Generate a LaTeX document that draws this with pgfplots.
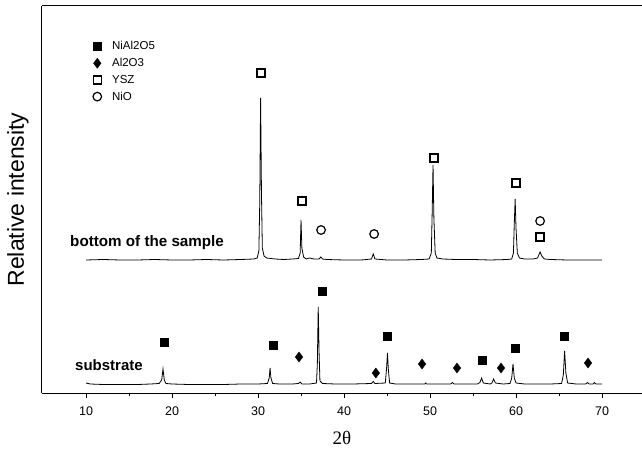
\documentclass[border=0pt]{standalone}
\usepackage{fontspec}
\setmainfont{Liberation Sans}
\newfontfamily\seriffont{Liberation Serif}
\usepackage{pgfplots}
\pgfplotsset{compat=1.18}
\begin{document}
\begin{tikzpicture}
\begin{axis}[
  name=ax,
  scale only axis,
  width=600pt, height=387pt,
  xmin=4.88, xmax=74.65,
  ymin=0, ymax=387,
  axis x line*=box, axis y line*=left,
  axis line style={line width=1pt},
  xtick={10,20,30,40,50,60,70},
  minor x tick num=1,
  xtick pos=bottom,
  ytick=\empty,
  tick align=outside,
  major tick length=5pt, minor tick length=3pt,
  tick style={line width=0.8pt, black},
  /pgf/number format/assume math mode=true,
  xticklabel style={font=\fontsize{12.5}{14}\selectfont, yshift=-5pt},
  every axis x label/.style={at={(rel axis cs:0.5,0)}, anchor=center, yshift=-45pt},
  every axis y label/.style={at={(rel axis cs:0,0.5)}, rotate=90, anchor=center, yshift=24pt},
  xlabel={\seriffont\fontsize{19}{22}\selectfont 2θ},
  ylabel={\fontsize{23}{26}\selectfont Relative intensity},
  legend style={draw=none, fill=none, inner sep=0pt, outer sep=0pt,
    at={(rel axis cs:0,1)}, anchor=north west, xshift=51pt, yshift=-34pt,
    font=\fontsize{11.5}{13}\selectfont, row sep=4pt,
    nodes={inner sep=1.5pt},
    /tikz/every odd column/.append style={column sep=9pt}},
  legend cell align=left,
  legend image code/.code={\draw[mark repeat=2,mark phase=2,#1] plot coordinates {(0pt,0pt)(6pt,0pt)(12pt,0pt)};},
  clip=false,
]
% top trace: bottom of the sample
\addplot[black, line width=0.8pt, forget plot] coordinates {
(10,133) (12,133.5) (14,133) (16,133) (18,133.5) (20,133) (22,133) (24,133.5) (26,133) (28,133.5)
(29.5,134) (29.9,135) (30.1,142) (30.2,190) (30.3,295) (30.4,200) (30.5,145) (30.7,137) (31,135)
(32,134) (33,133.5) (34,134) (34.7,134.5) (34.9,140) (35.0,173) (35.1,145) (35.3,136) (35.6,134)
(36,135) (36.5,134) (37.1,134) (37.3,136) (37.5,134) (38,133.5) (40,133) (42,133)
(43.2,134) (43.4,139) (43.6,134) (45,133) (47,133) (49,133.5) (49.9,134) (50.15,140) (50.25,180)
(50.35,228) (50.45,175) (50.6,140) (50.8,135) (51.5,134) (53,133.5) (55,133.5) (57,133) (59,133.5)
(59.5,134) (59.7,140) (59.8,170) (59.9,194) (60.0,165) (60.15,140) (60.4,135) (61,134) (62,134)
(62.5,135) (62.8,141) (63.0,137) (63.3,134) (64,133.5) (66,133) (68,133) (70,133)
};
% bottom trace: substrate
\addplot[black, line width=0.8pt, forget plot] coordinates {
(10,10) (10.5,9) (12,8.5) (14,8.5) (16,8.5) (17.5,9) (18.5,9.5) (18.8,13) (18.95,24) (19.1,13) (19.3,9.5)
(20,9) (22,8.5) (24,8.5) (26,8.5) (28,9) (30,9) (31.1,9.5) (31.3,15) (31.4,25) (31.5,15) (31.7,9.5)
(32.5,9) (34,9) (34.7,9.5) (34.9,11) (35.1,9) (36,9) (36.8,10) (36.9,30) (37.0,86) (37.1,40) (37.2,12) (37.5,9.5)
(39,9) (41,9) (43.2,9.5) (43.4,11.5) (43.6,9.5) (44.8,10) (44.95,25) (45.05,40) (45.15,24) (45.3,10)
(46,9) (48,9) (49.4,9) (49.5,10) (49.6,9) (51,9) (52.4,9) (52.6,10.5) (52.8,9) (54,9) (55.5,9)
(55.8,10.5) (56.0,15) (56.2,10) (57.0,9) (57.2,10) (57.4,14) (57.6,10) (58.5,9) (59.3,9.5)
(59.5,15) (59.65,29) (59.8,15) (60,10) (61,9) (62,9) (63,9) (64,9) (65.3,9.5) (65.5,18) (65.65,42)
(65.8,20) (66,10) (67,9) (68.1,9) (68.3,10.5) (68.5,9) (69.0,9) (69.1,10.5) (69.3,9) (70,9)
};
% markers
\addplot[only marks, mark=square*, mark size=4pt, black] coordinates {
(19.07,51) (31.74,48) (37.44,102) (45.0,57) (56.05,33) (59.9,45) (65.6,57)};
\addlegendentry{NiAl2O5}
\addplot[only marks, mark=diamond*, mark size=5pt, black] coordinates {
(34.77,36) (43.7,20) (49.07,29) (53.14,25) (58.26,25) (68.37,30)};
\addlegendentry{Al2O3}
\addplot[only marks, mark=square, mark size=4pt, black, mark options={line width=1.3pt}] coordinates {
(30.35,320) (35.1,192) (50.47,235) (60.0,210) (62.8,156)};
\addlegendentry{YSZ}
\addplot[only marks, mark=o, mark size=4.3pt, black, mark options={line width=1.2pt}] coordinates {
(37.33,163) (43.5,159) (62.8,172)};
\addlegendentry{NiO}
\node[anchor=west, font=\bfseries\fontsize{15.2}{17}\selectfont, inner sep=0pt] at (axis cs:8.14,150) {bottom of the sample};
\node[anchor=west, font=\bfseries\fontsize{15}{17}\selectfont, inner sep=0pt] at (axis cs:8.72,28) {substrate};
\end{axis}
\pgfresetboundingbox
\path[use as bounding box] ([xshift=-42pt, yshift=-60pt]ax.south west) rectangle ([yshift=6pt]ax.north east);
\end{tikzpicture}
\end{document}
